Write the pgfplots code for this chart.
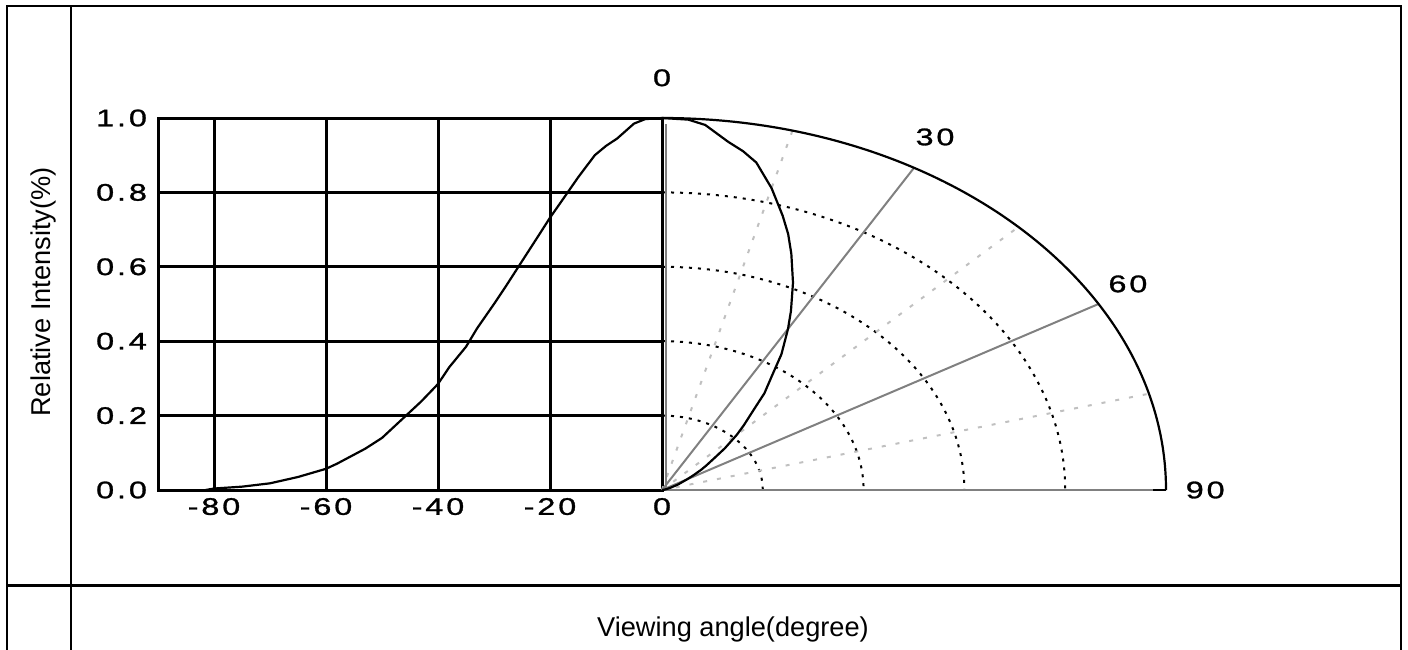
\documentclass[border=0pt]{standalone}
\usepackage{fontspec}
\setmainfont{Liberation Sans}
\newfontfamily\tickfont[FakeStretch=1.35,LetterSpace=12,FakeBold=1.2]{Liberation Sans}
\usepackage{pgfplots}
\pgfplotsset{compat=1.18}
\usepackage{pgfplotstable}
\definecolor{midgray}{RGB}{128,128,128}
\definecolor{ltgray}{RGB}{192,192,192}

\pgfplotstableread{
t r
0 1.000
3 0.997
5 0.985
8 0.945
10 0.925
12 0.900
15 0.840
18 0.775
20 0.732
22 0.685
25 0.615
28 0.545
30 0.500
33 0.435
35 0.385
38 0.330
40 0.285
43 0.238
45 0.210
48 0.168
50 0.140
53 0.111
55 0.095
58 0.071
60 0.057
65 0.035
70 0.018
75 0.009
80 0.004
81.5 0.000
}\profile

\newcommand\tfont{\tickfont\fontsize{12}{14}\selectfont}

\begin{document}
\begin{tikzpicture}
\useasboundingbox (0,0) rectangle (704pt,-324.5pt);
% table frame
\draw[line width=1pt] (3.5pt,-330pt) -- (3.5pt,-3pt) -- (700.5pt,-3pt) -- (700.5pt,-330pt);
\draw[line width=1pt] (35.5pt,-3pt) -- (35.5pt,-330pt);
\draw[line width=1.5pt] (3.5pt,-292.5pt) -- (700.5pt,-292.5pt);

\begin{axis}[
  at={(331pt,-245pt)}, anchor=south east,
  x=2.8pt, y=186pt,
  xmin=-90, xmax=0, ymin=0, ymax=1,
  clip=false,
  axis line style={line width=1.5pt},
  grid=major,
  major grid style={line width=1.5pt, black},
  major tick length=0pt,
  xtick={-80,-60,-40,-20,0},
  xticklabels={-80,-60,-40,-20,0},
  ytick={0,0.2,0.4,0.6,0.8,1},
  yticklabels={0.0,0.2,0.4,0.6,0.8,1.0},
  ticklabel style={font=\tfont},
  yticklabel style={xshift=-2pt},
  xticklabel style={yshift=-0.5pt},
]
% polar grid circles
\pgfplotsinvokeforeach{0.2,0.4,0.6,0.8}{
  \draw[black, line width=1pt, dash pattern=on 1.5pt off 3pt]
    (axis cs:0,#1) arc[start angle=90, end angle=0, x radius=#1*252pt, y radius=#1*186pt];
}
% light gray radials
\draw[ltgray, line width=1pt, dash pattern=on 2pt off 5pt] (axis cs:0,0) -- (axis cs:23.29,0.9659);
\draw[ltgray, line width=1pt, dash pattern=on 2pt off 5pt] (axis cs:0,0) -- (axis cs:63.64,0.7071);
\draw[ltgray, line width=1pt, dash pattern=on 2pt off 5pt] (axis cs:0,0) -- (axis cs:86.93,0.2588);
% gray radials
\draw[midgray, line width=1pt] (axis cs:0,0) -- (axis cs:45,0.8660);
\draw[midgray, line width=1pt] (axis cs:0,0) -- (axis cs:77.94,0.5);
\draw[midgray, line width=1pt] (axis cs:0,0) -- (axis cs:87.7,0);
\draw[black, line width=1pt] (axis cs:87.7,0) -- (axis cs:90,0);
\draw[midgray, line width=1pt] ([xshift=1.8pt]axis cs:0,0) -- ([xshift=1.8pt]axis cs:0,0.985);
% outer arc
\draw[black, line width=1.1pt] (axis cs:0,1) arc[start angle=90, end angle=0, x radius=252pt, y radius=186pt];
% data: polar and cartesian
\addplot[black, line width=1.1pt] table[x expr={90*\thisrow{r}*sin(\thisrow{t})}, y expr={\thisrow{r}*cos(\thisrow{t})}] {\profile};
\addplot[black, line width=1.1pt] table[x expr={-\thisrow{t}}, y=r] {\profile};
% polar labels
\node[font=\tfont] at (axis cs:0,1.108) {0};
\node[font=\tfont] at (axis cs:48.75,0.949) {30};
\node[font=\tfont] at (axis cs:83.2,0.554) {60};
\node[font=\tfont] at (axis cs:97,0) {90};
\end{axis}

\node[rotate=90, font=\fontsize{13.6}{15}\selectfont] at (21.5pt,-146pt) {Relative Intensity(\%)};
\node[font=\fontsize{13.6}{15}\selectfont] at (366.5pt,-314.5pt) {Viewing angle(degree)};
\end{tikzpicture}
\end{document}
